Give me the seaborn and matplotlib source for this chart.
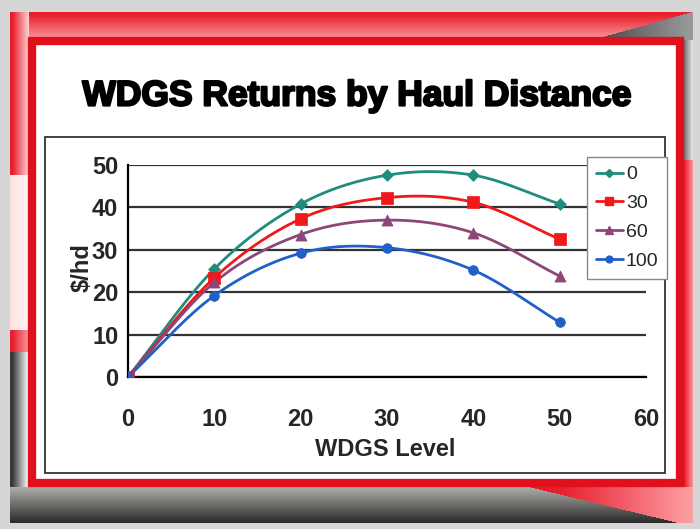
import numpy as np
import pandas as pd
import matplotlib
matplotlib.use("Agg")
import matplotlib.pyplot as plt
from matplotlib.patches import Rectangle
from matplotlib.lines import Line2D
import matplotlib.patheffects as pe
import seaborn as sns

# data
wdgs_level = [0, 10, 20, 30, 40, 50]
haul_0 = [0, 25.5, 40.8, 47.6, 47.6, 40.8]
haul_30 = [0, 23.4, 37.3, 42.3, 41.2, 32.5]
haul_60 = [0, 22.3, 33.6, 37.0, 34.0, 23.8]
haul_100 = [0, 19.2, 29.2, 30.5, 25.2, 12.9]
series_names = ["0", "30", "60", "100"]
x_ticks = [0, 10, 20, 30, 40, 50, 60]
y_ticks = [0, 10, 20, 30, 40, 50]

colors = ["#1f8c7c", "#f01818", "#8c4678", "#2060c8"]
markers = ["D", "s", "^", "o"]
msizes = [6, 8, 8, 7]


def smooth(xs, ys, n=30):
    # Catmull-Rom curve through the points (like Excel's smoothed line)
    xs = np.asarray(xs, float)
    ys = np.asarray(ys, float)
    px = np.concatenate([[2 * xs[0] - xs[1]], xs, [2 * xs[-1] - xs[-2]]])
    py = np.concatenate([[2 * ys[0] - ys[1]], ys, [2 * ys[-1] - ys[-2]]])
    ox, oy = [], []
    t = np.linspace(0, 1, n, endpoint=False)
    for i in range(1, len(px) - 2):
        for p, out in ((px, ox), (py, oy)):
            p0, p1, p2, p3 = p[i - 1], p[i], p[i + 1], p[i + 2]
            out.extend(0.5 * (2 * p1 + (-p0 + p2) * t
                              + (2 * p0 - 5 * p1 + 4 * p2 - p3) * t ** 2
                              + (-p0 + 3 * p1 - 3 * p2 + p3) * t ** 3))
    ox.append(xs[-1])
    oy.append(ys[-1])
    return ox, oy


all_series = [haul_0, haul_30, haul_60, haul_100]
curves = []
points = []
for name, vals in zip(series_names, all_series):
    cx, cy = smooth(wdgs_level, vals)
    curves.append(pd.DataFrame({"x": cx, "y": cy, "haul": name}))
    points.append(pd.DataFrame({"x": wdgs_level, "y": vals, "haul": name}))
curves = pd.concat(curves)
points = pd.concat(points)

sns.set_style("white")
plt.rcParams["font.family"] = ["Liberation Sans", "DejaVu Sans"]

W, H = 700, 529
fig = plt.figure(figsize=(7, 5.29), dpi=100)

# ---- slide background ----
yy, xx = np.mgrid[0:H, 0:W].astype(float)
img = np.ones((H, W, 3))
img[:] = 0.84
slide = (xx >= 10) & (xx < 693) & (yy >= 12) & (yy < 523)
img[slide] = 1.0

red = np.array([0.91, 0.12, 0.18])
pink = np.array([0.99, 0.62, 0.64])


def paint(mask, c0, c1, t):
    t = np.clip(t, 0, 1)[mask][:, None]
    img[mask] = np.asarray(c0) * (1 - t) + np.asarray(c1) * t


top = slide & (yy < 40)
paint(top, red, pink, (yy - 14) / 26)
left_red = slide & (xx < 29) & (yy < 175)
paint(left_red, red, np.array([1, 0.85, 0.86]), (xx - 12) / 17)
left_mid = slide & (xx < 29) & (yy >= 175) & (yy < 330)
paint(left_mid, np.array([1, 0.88, 0.89]), np.array([1, 0.96, 0.96]), (xx - 10) / 18)
left_red2 = slide & (xx < 29) & (yy >= 330) & (yy < 352)
paint(left_red2, red, pink, (xx - 12) / 17)
left_dark = slide & (xx < 29) & (yy >= 352)
paint(left_dark, np.array([0.22, 0.22, 0.22]), np.array([1, 1, 1]), (xx - 12) / 16)
bottom = slide & (yy >= 487)
paint(bottom, np.array([0.68, 0.68, 0.66]), np.array([0.18, 0.18, 0.18]), (yy - 487) / 34)
tri = bottom & (xx > 530 + (yy - 487) * 150 / 36)
paint(tri, red, pink, (xx - 560) / 130)
wedge = slide & (yy < 40) & (xx > 690 - (yy - 12) * 100 / 28)
paint(wedge, np.array([0.3, 0.3, 0.3]), np.array([0.6, 0.6, 0.6]), (xx - 600) / 90)
right_gray = slide & (xx >= 684) & (yy >= 40) & (yy < 160)
paint(right_gray, np.array([0.45, 0.45, 0.45]), np.array([0.95, 0.95, 0.95]), (xx - 684) / 9)
right_red = slide & (xx >= 684) & (yy >= 160) & (yy < 487)
paint(right_red, red, pink, (xx - 684) / 9)

bg = fig.add_axes([0, 0, 1, 1], zorder=0)
bg.imshow(img, extent=(0, W, H, 0), aspect="auto")
bg.set_xlim(0, W)
bg.set_ylim(H, 0)
bg.axis("off")
bg.add_patch(Rectangle((32, 41), 648, 442, facecolor="white",
                       edgecolor="#e0101c", linewidth=6))
bg.add_patch(Rectangle((45, 137), 620, 336, facecolor="white",
                       edgecolor="#333333", linewidth=1.3))

fig.text(357 / W, 1 - 96 / H, "WDGS Returns by Haul Distance", ha="center",
         va="center", fontsize=25.5, fontweight="bold", color="black", zorder=3,
         path_effects=[pe.withStroke(linewidth=1.6, foreground="black")])

# ---- chart ----
ax = fig.add_axes([128 / W, 1 - 377 / H, 518 / W, 212 / H], zorder=2)
ax.set_facecolor("none")
pal = dict(zip(series_names, colors))
sns.lineplot(data=curves, x="x", y="y", hue="haul", palette=pal, sort=False,
             estimator=None, linewidth=2, legend=False, ax=ax)
for name, m, ms in zip(series_names, markers, msizes):
    sub = points[points["haul"] == name]
    sns.scatterplot(data=sub, x="x", y="y", color=pal[name], marker=m,
                    s=ms ** 2, edgecolor=pal[name], linewidth=0.5,
                    legend=False, ax=ax, zorder=4)

ax.set_xlim(0, 60)
ax.set_ylim(0, 50)
ax.set_xticks(x_ticks)
ax.set_yticks(y_ticks)
ax.set_xticklabels([str(v) for v in x_ticks], fontsize=17, fontweight="bold")
ax.set_yticklabels([str(v) for v in y_ticks], fontsize=17, fontweight="bold")
ax.tick_params(axis="x", direction="out", length=6, width=1.3, pad=16, color="black")
ax.tick_params(axis="y", direction="out", length=6, width=1.3, pad=1, color="black")
ax.grid(axis="y", color="#333333", linewidth=1.6)
ax.grid(axis="x", visible=False)
for s in ["top", "right"]:
    ax.spines[s].set_visible(False)
for s in ["left", "bottom"]:
    ax.spines[s].set_color("black")
    ax.spines[s].set_linewidth(1.6)
ax.set_xlabel("")
ax.set_ylabel("")

fig.text(385 / W, 1 - 450 / H, "WDGS Level", ha="center", va="center",
         fontsize=17, fontweight="bold", zorder=3)
fig.text(82 / W, 1 - 268 / H, "$/hd", ha="center", va="center",
         rotation=90, fontsize=17, fontweight="bold", zorder=3)

handles = [Line2D([], [], color=c, marker=m, markersize=ms * 0.7, linewidth=2)
           for c, m, ms in zip(colors, markers, msizes)]
leg = ax.legend(handles, series_names, loc="upper left",
                bbox_to_anchor=((587 - 128) / 518, (377 - 157) / 212),
                fontsize=14, frameon=True, fancybox=False, handlelength=1.4,
                handletextpad=0.15, borderpad=0.45, labelspacing=0.58,
                borderaxespad=0)
leg.get_frame().set_edgecolor("#888888")
leg.get_frame().set_linewidth(1)
leg.get_frame().set_facecolor("white")
leg.get_frame().set_alpha(1)

fig.savefig("out.png", dpi=100)
